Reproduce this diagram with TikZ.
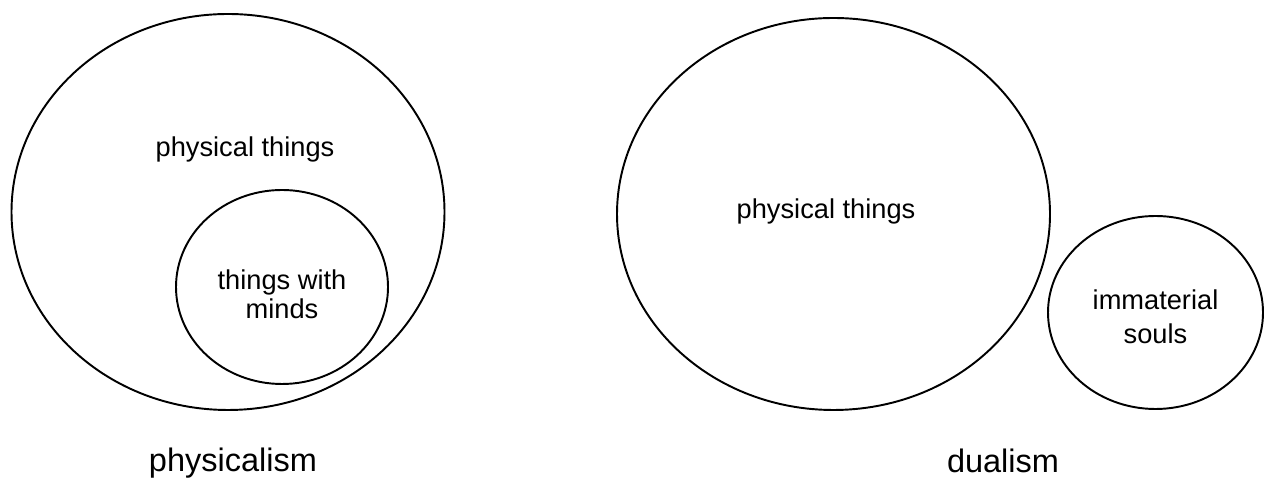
\documentclass[tikz,border=0pt]{standalone}
\usepackage{fontspec}
\setmainfont{Liberation Sans}
\usetikzlibrary{positioning,shapes.geometric}

\begin{document}
\begin{tikzpicture}[
   set/.style={draw,ellipse,line width=1.1pt,inner sep=0pt},
   lbl/.style={align=center,font=\fontsize{15.5}{17}\selectfont},
   caption/.style={anchor=base,font=\fontsize{18.5}{20}\selectfont}
 ]
  \useasboundingbox (0,0) rectangle (25.32,9.62);
  % physicalism
  \node[set,minimum width=8.66cm,minimum height=7.92cm] (phys) at (4.56,5.38) {};
  \node[set,minimum width=4.24cm,minimum height=3.88cm] (minds) at (5.64,3.88) {};
  \node[lbl,anchor=base] (physlbl) at (4.90,6.48) {physical things};
  \node[lbl,font=\fontsize{15.5}{16.5}\selectfont] (mindslbl) at (5.64,3.74) {things with\\minds};
  \node[caption] (physcap) at (4.66,0.18) {physicalism};
  % dualism
  \node[set,minimum width=8.66cm,minimum height=7.84cm] (body) at (16.67,5.34) {};
  \node[set,minimum width=4.30cm,minimum height=3.86cm] (soul) at (23.11,3.37) {};
  \node[lbl,anchor=base] (bodylbl) at (16.52,5.24) {physical things};
  \node[lbl,font=\fontsize{15.5}{19.3}\selectfont] (soullbl) at (23.11,3.28) {immaterial\\souls};
  \node[caption] (dualcap) at (20.06,0.16) {dualism};
\end{tikzpicture}
\end{document}
